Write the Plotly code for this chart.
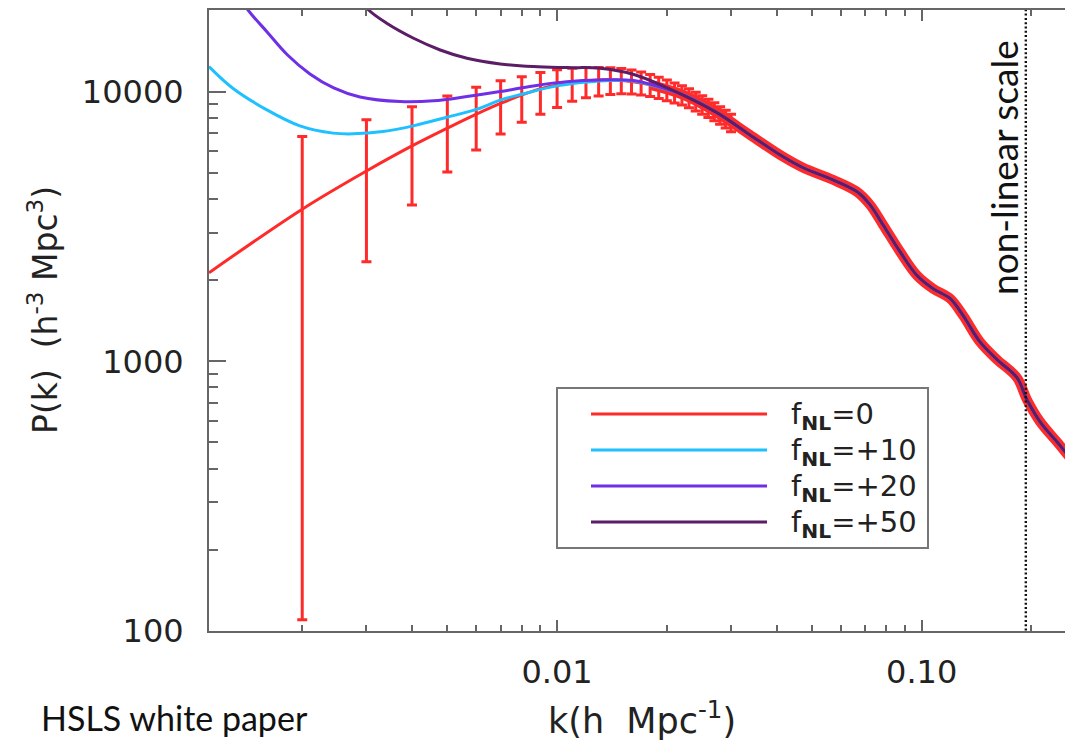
import numpy as np
import plotly.graph_objects as go

# ---------------- data ----------------
# common high-k part where all four spectra coincide
k_shared = [0.0222, 0.0275, 0.0338, 0.0417, 0.0473, 0.0571, 0.0665, 0.0721, 0.0783,
            0.0872, 0.0971, 0.1074, 0.1196, 0.1298, 0.1445, 0.1609, 0.1825, 0.1944,
            0.2110, 0.2394, 0.2632]
p_shared = [9720, 8340, 6910, 5730, 5220, 4710, 4250, 3810, 3210,
            2550, 2080, 1860, 1710, 1480, 1180, 1015, 870, 720,
            598, 488, 416]

# fNL = 0
k_f0_low = [0.00111, 0.00201, 0.00301, 0.0040, 0.00502, 0.00603, 0.00702, 0.00802,
            0.00898, 0.0100, 0.0119, 0.0146, 0.0180]
p_f0_low = [2130, 3680, 5090, 6290, 7340, 8270, 9060, 9720,
            10230, 10590, 10950, 11050, 10590]

# fNL = +10
k_f10_low = [0.00111, 0.00129, 0.00160, 0.00197, 0.00243, 0.00276, 0.00333, 0.00403,
             0.00499, 0.00603, 0.00698, 0.00807, 0.0100, 0.0131, 0.0162, 0.0180]
p_f10_low = [12380, 10290, 8555, 7464, 7015, 6973, 7111, 7464,
             8037, 8605, 9300, 9800, 10500, 10950, 10950, 10600]

# fNL = +20
k_f20_low = [0.00111, 0.00142, 0.00160, 0.00182, 0.00210, 0.00244, 0.00288, 0.00371,
             0.00458, 0.00566, 0.00698, 0.00861, 0.01063, 0.0131, 0.0162, 0.0180]
p_f20_low = [33000, 20070, 16680, 13700, 11630, 10320, 9550, 9184,
             9240, 9583, 10000, 10498, 10889, 11047, 11000, 10650]

# fNL = +50
k_f50_low = [0.0025, 0.00304, 0.00341, 0.00404, 0.00478, 0.00566, 0.00698, 0.00861,
             0.01063, 0.0131, 0.01616, 0.0200]
p_f50_low = [27000, 20070, 17920, 15768, 14268, 13292, 12665, 12377,
             12272, 12210, 11600, 10350]

# error bars on the fNL = 0 spectrum
k_err = [0.002, 0.003, 0.004, 0.005, 0.006, 0.007, 0.008, 0.009, 0.010,
         0.011, 0.012, 0.013, 0.014, 0.015, 0.016, 0.017, 0.018, 0.019, 0.020,
         0.021, 0.022, 0.023, 0.024, 0.025, 0.026, 0.027, 0.028, 0.029, 0.030]
p_err = [3680, 5090, 6290, 7340, 8270, 9060, 9720, 10230, 10590,
         10800, 10960, 11020, 11050, 11040, 10950, 10800, 10600, 10380, 10150,
         9930, 9720, 9480, 9220, 8960, 8700, 8450, 8180, 7930, 7680]
err_hi = [3135, 2770, 2505, 2300, 2115, 1900, 1640, 1530, 1450,
          1400, 1330, 1260, 1200, 1140, 1080, 1030, 980, 930, 880,
          840, 800, 760, 730, 700, 670, 640, 610, 590, 570]
err_lo = [3570, 2750, 2490, 2310, 2190, 2100, 2020, 1980, 1860,
          1600, 1480, 1380, 1300, 1220, 1150, 1080, 1020, 960, 900,
          850, 810, 770, 740, 710, 680, 650, 620, 600, 580]

series_labels = ["f<sub><b>NL</b></sub>=0", "f<sub><b>NL</b></sub>=+10",
                 "f<sub><b>NL</b></sub>=+20", "f<sub><b>NL</b></sub>=+50"]
series_colors = ["#ff2b2b", "#1fc0ff", "#6f2fe6", "#5a1d66"]

x_tickvals = [0.01, 0.1]
x_ticktext = ["0.01", "0.10"]
x_minor = [0.002, 0.003, 0.004, 0.005, 0.006, 0.007, 0.008, 0.009,
           0.02, 0.03, 0.04, 0.05, 0.06, 0.07, 0.08, 0.09, 0.2]
y_tickvals = [100, 1000, 10000]
y_ticktext = ["100", "1000", "10000"]
y_minor = [200, 300, 400, 500, 600, 700, 800, 900,
           2000, 3000, 4000, 5000, 6000, 7000, 8000, 9000, 20000]

k_nonlinear = 0.193
x_range = [0.00111, 0.26]
y_range = [100, 20070]

# ---------------- figure ----------------
OFF = 8                      # page body margin
W, H = 1073 - OFF, 745 - OFF
PL, PR, PT, PB = 209 - OFF, 1073 - OFF, 10 - OFF, 631 - OFF


def xp(px):
    """page pixel -> paper x"""
    return (px - OFF - PL) / (PR - PL)


def yp(py):
    """page pixel -> paper y"""
    return (PB - (py - OFF)) / (PB - PT)


k_f0 = k_f0_low + k_shared
p_f0 = p_f0_low + p_shared
k_f10 = k_f10_low + k_shared
p_f10 = p_f10_low + p_shared
k_f20 = k_f20_low + k_shared
p_f20 = p_f20_low + p_shared
k_f50 = k_f50_low + k_shared[1:]
p_f50 = p_f50_low + p_shared[1:]

fig = go.Figure()

# thick red band where error bars are dense
band_k = np.array(k_f0)
band_p = np.array(p_f0)
mask = band_k >= 0.018
fig.add_trace(go.Scatter(x=band_k[mask], y=band_p[mask], mode="lines",
                         line=dict(color=series_colors[0], width=10, shape="spline"),
                         hoverinfo="skip", showlegend=False))

fig.add_trace(go.Scatter(x=k_f0, y=p_f0, mode="lines",
                         line=dict(color=series_colors[0], width=3, shape="spline"),
                         showlegend=False))
fig.add_trace(go.Scatter(x=k_err, y=p_err, mode="markers",
                         marker=dict(size=1, color="rgba(0,0,0,0)"),
                         error_y=dict(type="data", array=err_hi, arrayminus=err_lo,
                                      symmetric=False, color=series_colors[0],
                                      thickness=3, width=5),
                         showlegend=False))
for kk, pp, col in [(k_f10, p_f10, series_colors[1]),
                    (k_f20, p_f20, series_colors[2]),
                    (k_f50, p_f50, series_colors[3])]:
    fig.add_trace(go.Scatter(x=kk, y=pp, mode="lines",
                             line=dict(color=col, width=3, shape="spline"),
                             showlegend=False))

# non-linear scale marker (on the overlaid right-hand axis, which carries the right ticks)
fig.add_trace(go.Scatter(x=[k_nonlinear, k_nonlinear], y=[50, 50000], mode="lines",
                         yaxis="y2",
                         line=dict(color="#111", width=2.4, dash="2px,2.3px"),
                         hoverinfo="skip", showlegend=False))

axis_col = "#666"
fig.update_xaxes(type="log", range=[np.log10(x_range[0]), np.log10(x_range[1])],
                 showline=True, linecolor=axis_col, linewidth=2, mirror="ticks",
                 ticks="inside", ticklen=11, tickwidth=1.5, tickcolor=axis_col,
                 tickmode="array", tickvals=x_tickvals, ticktext=x_ticktext,
                 ticklabelstandoff=12,
                 minor=dict(tickmode="array", tickvals=x_minor, ticks="inside",
                            ticklen=6, tickwidth=1.5, tickcolor=axis_col, showgrid=False),
                 showgrid=False, zeroline=False,
                 tickfont=dict(family="DejaVu Sans", size=32, color="#222"))
fig.update_yaxes(type="log", range=[np.log10(y_range[0]), np.log10(y_range[1])],
                 showline=True, linecolor=axis_col, linewidth=2, mirror=False,
                 ticks="inside", ticklen=17, tickwidth=1.5, tickcolor=axis_col,
                 tickmode="array", tickvals=y_tickvals, ticktext=y_ticktext,
                 ticklabelstandoff=17,
                 minor=dict(tickmode="array", tickvals=y_minor, ticks="inside",
                            ticklen=9, tickwidth=1.5, tickcolor=axis_col, showgrid=False),
                 showgrid=False, zeroline=False,
                 tickfont=dict(family="DejaVu Sans", size=32, color="#222"))

fig.update_layout(
    yaxis2=dict(type="log", range=[np.log10(y_range[0]), np.log10(y_range[1])],
                overlaying="y", side="right", anchor="x", showline=False,
                ticks="inside", ticklen=8, tickwidth=1.5, tickcolor=axis_col,
                tickmode="array", tickvals=y_tickvals, showticklabels=False,
                showgrid=False, zeroline=False),
    width=W, height=H,
    margin=dict(l=PL, r=W - PR, t=PT, b=H - PB, pad=0),
    paper_bgcolor="white", plot_bgcolor="white",
    showlegend=False,
)

ann = []
shapes = []
# axis titles
ann.append(dict(text="k(h&nbsp; Mpc<sup>-1</sup>)", x=xp(642), y=yp(718),
                xref="paper", yref="paper", showarrow=False,
                font=dict(family="DejaVu Sans", size=35, color="#222"),
                xanchor="center", yanchor="middle"))
ann.append(dict(text="P(k)&nbsp; (h<sup>-3</sup> Mpc<sup>3</sup>)", x=xp(43), y=yp(310),
                xref="paper", yref="paper", showarrow=False, textangle=-90,
                font=dict(family="DejaVu Sans", size=33, color="#222"),
                xanchor="center", yanchor="middle"))
ann.append(dict(text="HSLS white paper", x=xp(39), y=yp(717),
                xref="paper", yref="paper", showarrow=False,
                font=dict(family="Lato", size=34, color="#111"),
                xanchor="left", yanchor="middle"))
ann.append(dict(text="non-linear scale", x=xp(1003), y=yp(168),
                xref="paper", yref="paper", showarrow=False, textangle=-90,
                font=dict(family="Lato", size=37, color="#111"),
                xanchor="center", yanchor="middle"))

# hand-drawn legend (long line samples as in the original)
shapes.append(dict(type="rect", xref="paper", yref="paper",
                   x0=xp(557), x1=xp(928), y0=yp(388), y1=yp(548),
                   line=dict(color="#777", width=2), fillcolor="white", layer="above"))
for i, (lab, col) in enumerate(zip(series_labels, series_colors)):
    yy = 414 + 36 * i
    shapes.append(dict(type="line", xref="paper", yref="paper",
                       x0=xp(591), x1=xp(767), y0=yp(yy), y1=yp(yy),
                       line=dict(color=col, width=3), layer="above"))
    ann.append(dict(text=lab, x=xp(789), y=yp(yy + 2), xref="paper", yref="paper",
                    showarrow=False, xanchor="left", yanchor="middle",
                    font=dict(family="DejaVu Sans", size=29, color="#222")))

fig.update_layout(annotations=ann, shapes=shapes)
fig.write_html("out.html")
